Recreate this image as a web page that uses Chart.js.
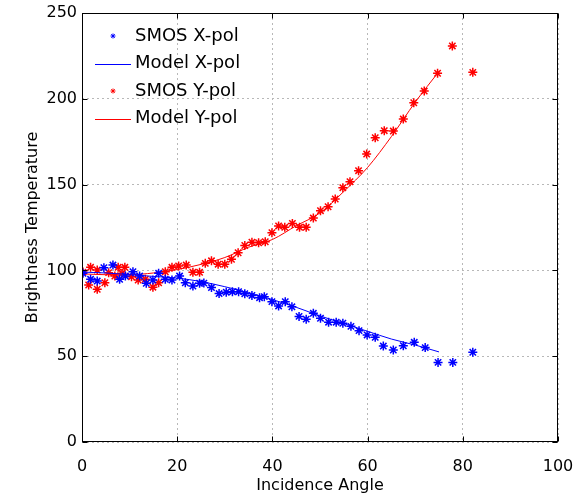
<!DOCTYPE html>
<html>
<head>
<meta charset="utf-8">
<script src="https://cdn.jsdelivr.net/npm/chart.js@4"></script>
<style>
html, body { margin: 0; padding: 0; background: #fff; }
</style>
</head>
<body>
<canvas id="grafica" width="581" height="495"></canvas>
<script>
// SMOS X-pol (angulo, temperatura)
const xPolAngulos = [0.2, 1.8, 3.2, 4.6, 6.5, 7.9, 9.1, 10.7, 12.1, 13.5, 14.9, 16.1, 17.5, 18.9, 20.5, 21.7, 23.3, 24.7, 25.6, 27.2, 28.8, 30.3, 31.6, 32.9, 34.2, 35.7, 37.3, 38.3, 39.9, 41.3, 42.7, 44.1, 45.6, 47.1, 48.6, 50.1, 51.8, 53.4, 54.8, 56.5, 58.2, 59.9, 61.6, 63.3, 65.4, 67.5, 69.8, 72.1, 74.8, 77.9, 82.1];
const xPolSmos = [98.3, 94.8, 93.8, 101.6, 103.1, 94.8, 96.7, 99.2, 96.7, 92.5, 94.4, 98.3, 94.8, 94.4, 96.7, 92.8, 90.9, 92.5, 92.6, 90.0, 86.5, 87.3, 87.6, 87.6, 86.4, 85.4, 84.1, 84.7, 81.8, 79.3, 81.8, 78.8, 73.2, 71.6, 75.0, 72.1, 69.8, 69.8, 69.2, 67.4, 64.9, 62.4, 61.0, 55.9, 53.6, 56.1, 58.1, 55.0, 46.4, 46.4, 52.3];

// SMOS Y-pol
const yPolAngulos = [0.2, 1.4, 1.8, 3.2, 3.2, 4.8, 5.6, 6.9, 7.6, 8.4, 9.0, 10.4, 11.8, 13.3, 14.9, 16.1, 17.5, 18.9, 20.3, 21.9, 23.3, 24.7, 25.9, 27.2, 28.6, 30.0, 31.4, 32.8, 34.2, 35.7, 37.1, 38.5, 39.9, 41.3, 42.6, 44.2, 45.7, 47.1, 48.6, 50.1, 51.7, 53.2, 54.8, 56.3, 58.1, 59.8, 61.6, 63.5, 65.4, 67.5, 69.7, 71.9, 74.7, 77.8, 82.1];
const yPolSmos = [99.0, 91.5, 101.8, 89.0, 100.2, 92.8, 98.7, 96.7, 101.8, 98.3, 101.8, 96.3, 94.4, 94.8, 90.2, 92.8, 99.2, 101.8, 102.6, 103.1, 98.9, 98.9, 104.1, 105.6, 103.6, 103.6, 106.5, 110.3, 114.5, 116.4, 116.1, 116.7, 122.0, 125.9, 125.1, 127.4, 125.1, 125.1, 130.5, 134.8, 137.1, 141.6, 148.2, 151.7, 158.1, 167.8, 177.3, 181.4, 181.2, 188.2, 197.7, 204.5, 214.9, 230.8, 215.4];

// Modelos
const modeloAngulos = [0, 5, 10, 15, 20, 25, 30, 35, 40, 45, 50, 55, 60, 65, 70, 75];
const modeloX = [99.0, 98.5, 97.5, 96.5, 95.5, 93.5, 90.5, 87.0, 83.0, 78.5, 73.5, 69.0, 64.5, 60.0, 56.5, 52.5];
const modeloY = [98.0, 97.5, 97.5, 98.5, 100.5, 103.5, 107.5, 113.5, 118.0, 126.0, 133.5, 146.0, 160.0, 178.0, 198.0, 216.0];

const ticksX = [0, 20, 40, 60, 80, 100];
const ticksY = [0, 50, 100, 150, 200, 250];

const AZUL = '#0000ff';
const ROJO = '#ff0000';
const FUENTE = '"DejaVu Sans", sans-serif';

function pares(xs, ys) {
  return xs.map((x, i) => ({ x: x, y: ys[i] }));
}

const marco = {
  id: 'marco',
  afterDatasetsDraw(chart) {
    const ctx = chart.ctx;
    const a = chart.chartArea;
    const sx = chart.scales.x, sy = chart.scales.y;
    ctx.save();
    ctx.strokeStyle = '#000';
    ctx.lineWidth = 1;
    ctx.setLineDash([]);
    const L = Math.round(a.left) + 0.5, R = Math.round(a.right) - 0.5;
    const T = Math.round(a.top) + 0.5, B = Math.round(a.bottom) - 0.5;
    ctx.strokeRect(L, T, R - L, B - T);
    ctx.beginPath();
    ticksX.forEach(v => {
      const px = Math.round(sx.getPixelForValue(v)) + 0.5;
      ctx.moveTo(px, B); ctx.lineTo(px, B - 5);
      ctx.moveTo(px, T); ctx.lineTo(px, T + 5);
    });
    ticksY.forEach(v => {
      const py = Math.round(sy.getPixelForValue(v)) + 0.5;
      ctx.moveTo(L, py); ctx.lineTo(L + 5, py);
      ctx.moveTo(R, py); ctx.lineTo(R - 5, py);
    });
    ctx.stroke();

    // leyenda dentro del grafico
    const filas = [36, 63.5, 91, 118.5];
    ctx.font = '18px ' + FUENTE;
    ctx.textBaseline = 'middle';
    ctx.textAlign = 'left';
    chart.data.datasets.forEach((d, i) => {
      const y = filas[i];
      if (d.showLine === false) {
        ctx.strokeStyle = d.borderColor;
        ctx.fillStyle = d.borderColor;
        Chart.helpers.drawPoint(ctx, { pointStyle: 'star', radius: 2.5, borderWidth: 1 }, 113, y);
      } else {
        ctx.strokeStyle = d.borderColor;
        ctx.lineWidth = 1;
        ctx.beginPath();
        ctx.moveTo(95, Math.round(y) + 0.5);
        ctx.lineTo(131, Math.round(y) + 0.5);
        ctx.stroke();
      }
      ctx.fillStyle = '#000';
      ctx.fillText(d.label, 135, y);
    });
    ctx.restore();
  }
};

const ctx = document.getElementById('grafica').getContext('2d');
window.chart = new Chart(ctx, {
  type: 'scatter',
  data: {
    datasets: [
      {
        label: 'SMOS X-pol',
        data: pares(xPolAngulos, xPolSmos),
        showLine: false,
        pointStyle: 'star',
        pointRadius: 4.5,
        borderColor: AZUL,
        backgroundColor: AZUL,
        pointBorderWidth: 1.5
      },
      {
        label: 'Model X-pol',
        type: 'line',
        data: pares(modeloAngulos, modeloX),
        borderColor: AZUL,
        borderWidth: 1,
        pointRadius: 0,
        cubicInterpolationMode: 'monotone',
        fill: false
      },
      {
        label: 'SMOS Y-pol',
        data: pares(yPolAngulos, yPolSmos),
        showLine: false,
        pointStyle: 'star',
        pointRadius: 4.5,
        borderColor: ROJO,
        backgroundColor: ROJO,
        pointBorderWidth: 1.5
      },
      {
        label: 'Model Y-pol',
        type: 'line',
        data: pares(modeloAngulos, modeloY),
        borderColor: ROJO,
        borderWidth: 1,
        pointRadius: 0,
        cubicInterpolationMode: 'monotone',
        fill: false
      }
    ]
  },
  options: {
    responsive: false,
    animation: false,
    layout: { padding: { left: 0, right: 23, top: 13, bottom: 0 } },
    plugins: {
      legend: { display: false },
      tooltip: { enabled: false }
    },
    scales: {
      x: {
        type: 'linear',
        min: 0, max: 100,
        afterBuildTicks: s => { s.ticks = ticksX.map(v => ({ value: v })); },
        afterFit: s => { s.height = 53; s.paddingLeft = 0; s.paddingRight = 0; },
        ticks: { color: '#000', font: { family: FUENTE, size: 16 }, padding: 15, maxRotation: 0 },
        grid: { color: '#b8b8b8', lineWidth: 1, drawTicks: false },
        border: { display: false, dash: [2, 3] },
        title: { display: true, text: 'Incidence Angle', color: '#000', font: { family: FUENTE, size: 16 }, padding: { top: 0, bottom: 0 } }
      },
      y: {
        type: 'linear',
        min: 0, max: 250,
        afterBuildTicks: s => { s.ticks = ticksY.map(v => ({ value: v })); },
        afterFit: s => { s.width = 82; s.paddingTop = 0; s.paddingBottom = 0; },
        ticks: { color: '#000', font: { family: FUENTE, size: 16 }, padding: 5 },
        grid: { color: '#b8b8b8', lineWidth: 1, drawTicks: false },
        border: { display: false, dash: [2, 3] },
        title: { display: true, text: 'Brightness Temperature', color: '#000', font: { family: FUENTE, size: 16 }, padding: { top: 23, bottom: 0 } }
      }
    }
  },
  plugins: [marco]
});
</script>
</body>
</html>
